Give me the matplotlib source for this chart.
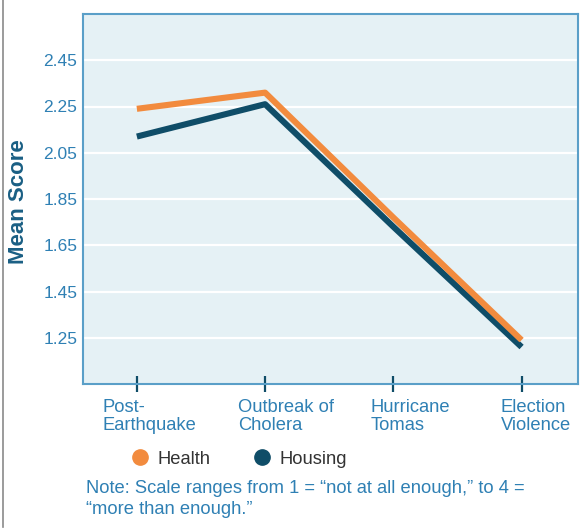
import matplotlib
matplotlib.use("Agg")
import matplotlib.pyplot as plt
import matplotlib.transforms as mtransforms
from matplotlib.lines import Line2D

plt.rcParams['font.family'] = ['Liberation Sans', 'DejaVu Sans']

events = ["Post-\nEarthquake", "Outbreak of\nCholera", "Hurricane\nTomas", "Election\nViolence"]
health = [2.24, 2.31, 1.77, 1.24]
housing = [2.12, 2.26, 1.73, 1.21]
yticks = [1.25, 1.45, 1.65, 1.85, 2.05, 2.25, 2.45]

ORANGE = "#f28b3e"
TEAL = "#0f4d68"
BLUE_TXT = "#2f80b4"
SPINE = "#5a9fc8"

fig = plt.figure(figsize=(5.82, 5.31), dpi=100)
ax = fig.add_axes([83 / 582, 1 - 384 / 531, 495 / 582, 370 / 531])
ax.set_facecolor("#e5f1f5")

x = list(range(len(events)))
ax.plot(x, housing, color=TEAL, lw=4.4, solid_capstyle='butt', zorder=3)
ax.plot(x, health, color=ORANGE, lw=4.4, solid_capstyle='butt', zorder=4)

ax.set_xlim(-0.42, 3.44)
ax.set_ylim(1.05, 2.65)
ax.set_yticks(yticks)
ax.set_yticklabels([f"{v:.2f}" for v in yticks])
ax.grid(axis='y', color='white', lw=1.6)
ax.set_axisbelow(True)

ax.tick_params(axis='y', length=0, pad=4, labelsize=12.5, labelcolor=BLUE_TXT)
ax.tick_params(axis='x', direction='inout', length=12, width=1.6, color=TEAL,
               pad=5, labelsize=13.2, labelcolor=BLUE_TXT)
ax.set_xticks(x)
ax.set_xticklabels(events, ha='left', linespacing=1.05)
shifts = [-34, -27, -23, -21]
for lab, dx in zip(ax.get_xticklabels(), shifts):
    lab.set_transform(lab.get_transform() +
                      mtransforms.ScaledTranslation(dx / 100, 0, fig.dpi_scale_trans))

for s in ax.spines.values():
    s.set_color(SPINE)
    s.set_linewidth(1.5)

ax.set_ylabel("Mean Score", fontsize=16, fontweight='bold', color="#1a5f84")
ax.yaxis.set_label_coords((29 - 83) / 495, (384 - 202) / 370)

handles = [
    Line2D([], [], marker='o', ls='none', color=ORANGE, markersize=11),
    Line2D([], [], marker='o', ls='none', color=TEAL, markersize=11),
]
fig.legend(handles, ["Health", "Housing"], loc='center left',
           bbox_to_anchor=(131 / 582, 1 - 459 / 531), ncol=2, frameon=False,
           fontsize=13.2, handlelength=1.0, handletextpad=0.45, columnspacing=2.3,
           borderpad=0, borderaxespad=0, labelcolor="#333333")

fig.text(86 / 582, 1 - 493 / 531,
         "Note: Scale ranges from 1 = \u201cnot at all enough,\u201d to 4 =",
         fontsize=13.2, color=BLUE_TXT, va='baseline')
fig.text(86 / 582, 1 - 514 / 531, "\u201cmore than enough.\u201d",
         fontsize=13.2, color=BLUE_TXT, va='baseline')

fig.add_artist(Line2D([2.5 / 582, 2.5 / 582], [1 - 527 / 531, 1], color="#8a8a8a",
                      lw=1.2, transform=fig.transFigure))

fig.savefig("out.png", dpi=100)
